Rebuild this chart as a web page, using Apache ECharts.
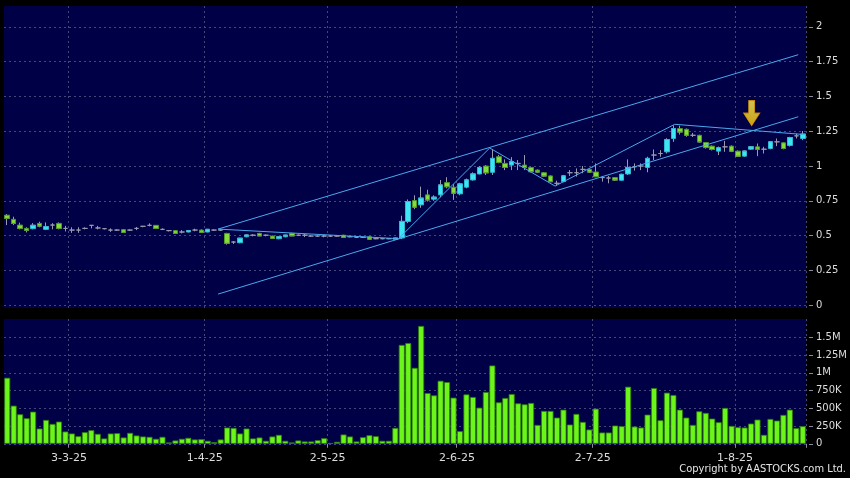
<!DOCTYPE html>
<html><head><meta charset="utf-8">
<script src="https://cdn.jsdelivr.net/npm/echarts@6/dist/echarts.min.js"></script>
<style>html,body{margin:0;padding:0;background:#000;}#c{width:850px;height:478px;}</style>
</head><body><div id="c"></div>
<script>
// Trading days (D-M-YY)
const dates = [
'17-2-25','18-2-25','19-2-25','20-2-25','21-2-25','24-2-25','25-2-25','26-2-25','27-2-25','28-2-25',
'3-3-25','4-3-25','5-3-25','6-3-25','7-3-25','10-3-25','11-3-25','12-3-25','13-3-25','14-3-25','17-3-25','18-3-25','19-3-25','20-3-25','21-3-25','24-3-25','25-3-25','26-3-25','27-3-25','28-3-25','31-3-25',
'1-4-25','2-4-25','3-4-25','7-4-25','8-4-25','9-4-25','10-4-25','11-4-25','14-4-25','15-4-25','16-4-25','17-4-25','22-4-25','23-4-25','24-4-25','25-4-25','28-4-25','29-4-25','30-4-25',
'2-5-25','6-5-25','7-5-25','8-5-25','9-5-25','12-5-25','13-5-25','14-5-25','15-5-25','16-5-25','19-5-25','20-5-25','21-5-25','22-5-25','23-5-25','26-5-25','27-5-25','28-5-25','29-5-25','30-5-25',
'2-6-25','3-6-25','4-6-25','5-6-25','6-6-25','9-6-25','10-6-25','11-6-25','12-6-25','13-6-25','16-6-25','17-6-25','18-6-25','19-6-25','20-6-25','23-6-25','24-6-25','25-6-25','26-6-25','27-6-25','30-6-25',
'2-7-25','3-7-25','4-7-25','7-7-25','8-7-25','9-7-25','10-7-25','11-7-25','14-7-25','15-7-25','16-7-25','17-7-25','18-7-25','21-7-25','22-7-25','23-7-25','24-7-25','25-7-25','28-7-25','29-7-25','30-7-25','31-7-25',
'1-8-25','4-8-25','5-8-25','6-8-25','7-8-25','8-8-25','11-8-25','12-8-25','13-8-25','14-8-25','15-8-25'
];
const tickLabels = ['3-3-25','1-4-25','2-5-25','2-6-25','2-7-25','1-8-25'];

const opens = [
.647,.617,.576,.552,.550,.588,.545,.576,.588,.552,
.540,.540,.552,.574,.555,.550,.540,.540,.543,.540,.552,.567,.574,.574,.545,.536,.536,.526,.526,.540,.540,
.526,.540,.540,.516,.454,.449,.492,.503,.516,.503,.497,.478,.492,.516,.503,.503,.497,.497,.497,
.497,.497,.503,.492,.488,.488,.492,.478,.478,.478,.486,.483,.602,.752,.721,.793,.762,.793,.881,.848,
.800,.848,.900,.943,1.000,.955,1.067,1.019,1.007,1.019,1.007,.990,.971,.952,.929,.876,.888,.952,.952,.976,.976,
.957,.917,.914,.917,.898,.943,.995,1.000,.990,1.079,1.090,1.102,1.198,1.269,1.264,1.221,1.221,1.169,1.143,1.107,1.138,1.143,
1.107,1.071,1.121,1.138,1.121,1.126,1.174,1.167,1.148,1.217,1.198
];
const closes = [
.624,.588,.552,.538,.574,.569,.564,.576,.552,.552,
.540,.540,.552,.574,.555,.550,.540,.540,.524,.540,.552,.567,.574,.552,.545,.536,.516,.526,.536,.540,.524,
.545,.540,.540,.445,.454,.481,.504,.503,.499,.503,.481,.492,.503,.499,.503,.503,.497,.497,.497,
.497,.497,.488,.492,.488,.488,.475,.478,.478,.478,.472,.602,.745,.705,.769,.757,.776,.864,.852,.805,
.871,.900,.943,.990,.952,1.055,1.026,.990,1.031,1.019,.990,.960,.957,.929,.888,.876,.929,.952,.952,.976,.957,
.924,.917,.914,.900,.940,.990,.995,1.000,1.055,1.079,1.090,1.190,1.269,1.245,1.221,1.221,1.174,1.133,1.119,1.131,1.138,1.107,
1.071,1.107,1.138,1.121,1.121,1.174,1.174,1.126,1.205,1.217,1.229
];
const lows = [
.576,.576,.545,.523,.545,.560,.540,.545,.545,.530,
.520,.520,.545,.552,.545,.545,.527,.535,.520,.535,.540,.560,.567,.550,.540,.530,.514,.516,.524,.531,.520,
.524,.535,.535,.435,.440,.445,.488,.495,.497,.495,.478,.474,.488,.497,.497,.490,.492,.492,.488,
.490,.492,.485,.488,.484,.484,.472,.474,.474,.474,.468,.475,.590,.690,.700,.745,.750,.776,.840,.757,
.790,.840,.895,.940,.936,.936,1.020,.971,.971,.971,.971,.955,.952,.924,.884,.857,.884,.929,.924,.948,.950,
.920,.888,.876,.893,.895,.936,.967,.971,.955,1.043,1.067,1.090,1.174,1.226,1.210,1.209,1.170,1.125,1.112,1.079,1.102,1.100,
1.067,1.067,1.117,1.071,1.090,1.120,1.143,1.120,1.140,1.198,1.186
];
const highs = [
.655,.636,.593,.560,.590,.600,.595,.590,.595,.570,
.560,.560,.560,.574,.570,.555,.552,.545,.545,.545,.562,.567,.588,.576,.552,.540,.538,.540,.540,.550,.545,
.548,.545,.545,.520,.460,.484,.508,.510,.520,.508,.500,.495,.506,.520,.508,.512,.502,.502,.504,
.504,.502,.506,.497,.492,.492,.494,.482,.482,.482,.490,.643,.760,.790,.852,.830,.790,.900,.920,.870,
.880,.910,.955,1.000,1.007,1.119,1.080,1.048,1.064,1.043,1.079,.995,.976,.957,.933,.895,.936,.971,.983,1.000,.983,
1.019,.929,.929,.920,.945,1.048,1.019,1.019,1.067,1.119,1.114,1.200,1.293,1.290,1.270,1.238,1.225,1.172,1.148,1.140,1.181,1.148,
1.112,1.112,1.143,1.162,1.138,1.180,1.198,1.170,1.210,1.233,1.252
];
const volumes = [
930000,537000,416000,360000,453000,215000,336000,280000,313000,173000,
145000,107000,164000,192000,140000,75000,145000,150000,89000,154000,117000,103000,98000,70000,98000,19000,47000,70000,84000,61000,65000,
42000,23000,61000,229000,224000,145000,215000,75000,89000,42000,103000,126000,42000,19000,47000,33000,33000,51000,79000,
10000,28000,131000,103000,33000,93000,121000,107000,42000,42000,224000,1393000,1420000,1070000,1660000,715000,682000,888000,869000,650000,
178000,696000,659000,509000,729000,1103000,584000,645000,701000,570000,556000,575000,266000,463000,463000,369000,481000,271000,421000,308000,201000,
495000,159000,159000,257000,248000,804000,243000,229000,411000,785000,332000,720000,687000,481000,369000,266000,458000,435000,355000,304000,505000,252000,
234000,229000,285000,341000,126000,350000,327000,407000,481000,220000,248000
];

// Drawn trend lines: [bar index, price]
const zigzag = [[32.6,0.547],[60.5,0.478],[74.6,1.13],[84.7,0.856],[103.2,1.30],[122.8,1.228]];
const upperChannel = [[32.6,0.547],[122.3,1.80]];
const lowerChannel = [[32.6,0.080],[122.3,1.354]];
const arrowPoint = [[115.1,1.29]];

const priceMin = 0, priceMax = 2, priceStep = 0.25;
const volMin = 0, volMax = 1500000, volStep = 250000;

const chart = echarts.init(document.getElementById('c'), null, {renderer:'canvas'});

const isTick = (i, v) => tickLabels.indexOf(v) >= 0;
const wickData = dates.map((d,i)=>[closes[i],closes[i],lows[i],highs[i]]);
const bodyData = dates.map((d,i)=> opens[i]===closes[i] ? ['-','-','-','-'] :
  [opens[i],closes[i],Math.min(opens[i],closes[i]),Math.max(opens[i],closes[i])]);

const BG = '#000046';
const GRIDC = '#464678';
const TXT = '#dcdcdc';
const L = 4, R = 44;
const mainTop = 6, mainH = 302, dMin = -0.02, dMax = 2.15;
const pxU = mainH/(dMax-dMin);
const volTop = 319, volH = 126, vMin = -17000, vMax = 1758000;
const pxV = volH/(vMax-vMin);

const hiddenCat = {type:'category', data:dates, show:false};
const labelY = (gi, min, max, step, fmt) => ({
  type:'value', gridIndex:gi, position:'right', offset:3, min:min, max:max, interval:step,
  axisLine:{show:false},
  axisTick:{show:true, length:4, lineStyle:{color:'#8a8aa0'}},
  axisLabel:{color:TXT, fontSize:10, fontFamily:'DejaVu Sans', margin:7, formatter:fmt},
  splitLine:{show:true, lineStyle:{color:GRIDC, type:[2,3], width:1}}
});

chart.setOption({
  backgroundColor:'#000000',
  animation:false,
  grid:[
    {left:L, right:R, top:mainTop, height:mainH, show:true, backgroundColor:BG, borderWidth:0},
    {left:L, right:R, top:mainTop + (dMax-priceMax)*pxU, height:(priceMax-priceMin)*pxU, show:false},
    {left:L, right:R, top:volTop, height:volH, show:true, backgroundColor:BG, borderWidth:0},
    {left:L, right:R, top:volTop + (vMax-volMax)*pxV, height:(volMax-volMin)*pxV, show:false}
  ],
  xAxis:[
    {type:'category', gridIndex:0, data:dates, axisLine:{show:false}, axisTick:{show:false}, axisLabel:{show:false},
     splitLine:{show:true, interval:isTick, lineStyle:{color:GRIDC, type:[2,3], width:1}}},
    Object.assign({gridIndex:1}, hiddenCat),
    {type:'category', gridIndex:2, data:dates, axisLine:{show:false},
     axisTick:{show:true, interval:isTick, length:4, lineStyle:{color:'#8a8aa0'}},
     axisLabel:{show:true, interval:isTick, color:TXT, fontSize:11, fontFamily:'DejaVu Sans', margin:8, padding:[0,6,0,0]},
     splitLine:{show:true, interval:isTick, lineStyle:{color:GRIDC, type:[2,3], width:1}}},
    Object.assign({gridIndex:3}, hiddenCat),
    {type:'value', gridIndex:0, min:-0.5, max:dates.length-0.5, show:false}
  ],
  yAxis:[
    {type:'value', gridIndex:0, min:dMin, max:dMax, show:false},
    labelY(1, priceMin, priceMax, priceStep, v => String(v)),
    {type:'value', gridIndex:2, min:vMin, max:vMax, show:false},
    labelY(3, volMin, volMax, volStep, v => v===0 ? '0' : (v>=1e6 ? (v/1e6)+'M' : (v/1000)+'K'))
  ],
  series:[
    {type:'candlestick', name:'wick', xAxisIndex:0, yAxisIndex:0, barWidth:5, data:wickData,
     itemStyle:{color:'#9a9aac', color0:'#9a9aac', borderColor:'#9a9aac', borderColor0:'#9a9aac', borderColorDoji:'#9a9aac', borderWidth:1}},
    {type:'candlestick', name:'body', xAxisIndex:0, yAxisIndex:0, barWidth:5, data:bodyData,
     itemStyle:{color:'#3ee6f4', color0:'#86dc3c', borderColor:'#2cb8d0', borderColor0:'#4e9a22', borderWidth:1}},
    {type:'line', xAxisIndex:4, yAxisIndex:0, data:zigzag, symbol:'none', lineStyle:{color:'#4aa8ec', width:1}},
    {type:'line', xAxisIndex:4, yAxisIndex:0, data:upperChannel, symbol:'none', lineStyle:{color:'#4aa8ec', width:1}},
    {type:'line', xAxisIndex:4, yAxisIndex:0, data:lowerChannel, symbol:'none', lineStyle:{color:'#4aa8ec', width:1}},
    {type:'scatter', xAxisIndex:4, yAxisIndex:0, data:arrowPoint,
     symbol:'path://M5,0 L11,0 L11,12 L16,12 L8,24 L0,12 L5,12 Z', symbolSize:[16,25], symbolOffset:[0,'-50%'],
     itemStyle:{color:new echarts.graphic.LinearGradient(0,0,0,1,[{offset:0,color:'#fff45c'},{offset:1,color:'#ffcc00'}]), borderColor:'#e89a00', borderWidth:1}},
    {type:'bar', xAxisIndex:2, yAxisIndex:2, data:volumes, barWidth:6,
     itemStyle:{color:'#6cf51a', borderColor:'#2f7a0c', borderWidth:0.8}}
  ],
  graphic:[
    {type:'text', right:4, top:464, style:{text:'Copyright by AASTOCKS.com Ltd.', fill:'#e6e6e6',
     font:'11px "Liberation Sans Narrow", "DejaVu Sans Condensed", sans-serif'}}
  ]
});
</script></body></html>
